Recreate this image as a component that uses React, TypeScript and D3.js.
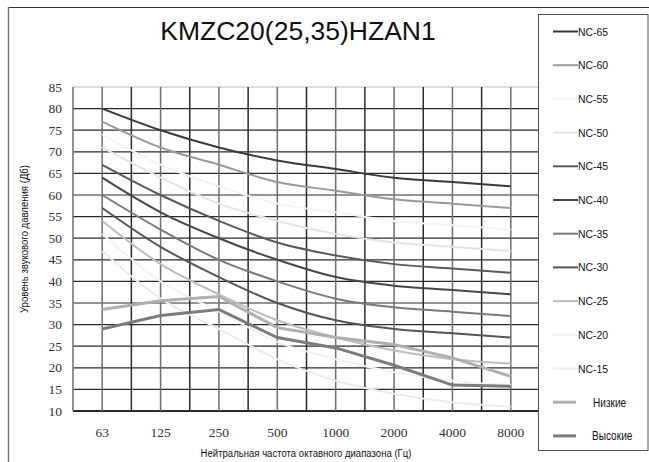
import * as d3 from "d3";

// octave band centre frequencies
const freqs = ["63", "125", "250", "500", "1000", "2000", "4000", "8000"];
const yTicks = [10, 15, 20, 25, 30, 35, 40, 45, 50, 55, 60, 65, 70, 75, 80, 85];

// NC curves (dB per octave band)
const nc65 = [80, 75, 71, 68, 66, 64, 63, 62];
const nc60 = [77, 71, 67, 63, 61, 59, 58, 57];
const nc55 = [74, 67, 62, 58, 56, 54, 53, 52];
const nc50 = [71, 64, 58, 54, 51, 49, 48, 47];
const nc45 = [67, 60, 54, 49, 46, 44, 43, 42];
const nc40 = [64, 56, 50, 45, 41, 39, 38, 37];
const nc35 = [60, 52, 45, 40, 36, 34, 33, 32];
const nc30 = [57, 48, 41, 35, 31, 29, 28, 27];
const nc25 = [54, 44, 37, 31, 27, 24, 22, 21];
const nc20 = [51, 40, 33, 26, 22, 19, 17, 16];
const nc15 = [47, 36, 29, 22, 17, 14, 12, 11];

// unit measurements
const low = [33.5, 35.5, 36.5, 29.3, 27, 25.4, 22.3, 18];
const high = [29, 32.1, 33.5, 27, 24.6, 20.6, 16, 15.7];

const series = [
  { name: "NC-65", values: nc65, color: "#3a3a3a", width: 2, curved: true },
  { name: "NC-60", values: nc60, color: "#9a9a9a", width: 2, curved: true },
  { name: "NC-55", values: nc55, color: "#f4f4f4", width: 2, curved: true },
  { name: "NC-50", values: nc50, color: "#e4e4e4", width: 2, curved: true },
  { name: "NC-45", values: nc45, color: "#5a5a5a", width: 2, curved: true },
  { name: "NC-40", values: nc40, color: "#474747", width: 2, curved: true },
  { name: "NC-35", values: nc35, color: "#7a7a7a", width: 2, curved: true },
  { name: "NC-30", values: nc30, color: "#555555", width: 2, curved: true },
  { name: "NC-25", values: nc25, color: "#bcbcbc", width: 2, curved: true },
  { name: "NC-20", values: nc20, color: "#f2f2f2", width: 2, curved: true },
  { name: "NC-15", values: nc15, color: "#ececec", width: 2, curved: true },
  { name: "Низкие", values: low, color: "#b0b0b0", width: 3, curved: false },
  { name: "Высокие", values: high, color: "#7c7c7c", width: 3, curved: false },
];

const sans = "'Liberation Sans', Arial, sans-serif";
const serif = "'Liberation Serif', 'Times New Roman', serif";

export default function App() {
  const width = 649;
  const height = 462;
  const plot = { left: 73, right: 540, top: 87, bottom: 411 };

  const x = d3
    .scalePoint<string>()
    .domain(freqs)
    .range([plot.left, plot.right])
    .padding(0.5);
  const step = x.step();
  const y = d3.scaleLinear().domain([10, 85]).range([plot.bottom, plot.top]);

  // vertical grid: at each band and half way between them
  const vGrid: { pos: number; major: boolean }[] = [];
  freqs.forEach((f) => {
    vGrid.push({ pos: (x(f) as number) - step / 2, major: false });
    vGrid.push({ pos: x(f) as number, major: true });
  });
  vGrid.push({ pos: plot.right, major: false });

  const lineCurved = d3
    .line<number>()
    .x((d, i) => x(freqs[i]) as number)
    .y((d) => y(d))
    .curve(d3.curveMonotoneX);
  const lineStraight = d3
    .line<number>()
    .x((d, i) => x(freqs[i]) as number)
    .y((d) => y(d));

  const legendX = 538;
  const legendTop = 31.5;
  const legendStep = 33.7;
  const narrow = 0.87; // horizontal squeeze to mimic a condensed face

  return (
    <svg
      width={width}
      height={height}
      style={{ position: "absolute", left: 0, top: 0, background: "#fff" }}
    >
      {/* outer frame */}
      <line x1={8} x2={649} y1={7.5} y2={7.5} stroke="#333" strokeWidth={1.2} />
      <line x1={8.5} x2={8.5} y1={7} y2={462} stroke="#777" strokeWidth={1.5} />

      {/* title */}
      <text
        x={298}
        y={40}
        textAnchor="middle"
        style={{ fontFamily: sans }}
        fontSize={26.5}
        fill="#111"
      >
        KMZC20(25,35)HZAN1
      </text>

      {/* horizontal grid */}
      {yTicks.map((t) => (
        <line
          key={`h${t}`}
          x1={plot.left}
          x2={plot.right}
          y1={y(t)}
          y2={y(t)}
          stroke={t === 85 ? "#bbb" : "#2a2a2a"}
          strokeWidth={t === 10 ? 1.8 : 1.2}
        />
      ))}

      {/* vertical grid */}
      {vGrid.map((g, i) => (
        <line
          key={`v${i}`}
          x1={g.pos}
          x2={g.pos}
          y1={plot.top}
          y2={plot.bottom}
          stroke={i === 0 || g.major ? "#6e6e6e" : "#2a2a2a"}
          strokeWidth={1.5}
        />
      ))}

      {/* y tick labels */}
      {yTicks.map((t) => (
        <text
          key={`yt${t}`}
          x={62}
          y={y(t) + 4.5}
          textAnchor="end"
          style={{ fontFamily: serif }}
          fontSize={13.5}
          fill="#333"
        >
          {t}
        </text>
      ))}

      {/* x tick labels */}
      {freqs.map((f) => (
        <text
          key={`xt${f}`}
          x={x(f) as number}
          y={437}
          textAnchor="middle"
          style={{ fontFamily: serif }}
          fontSize={13.5}
          fill="#333"
        >
          {f}
        </text>
      ))}

      {/* axis titles */}
      <text
        transform={`translate(28,${(plot.top + plot.bottom) / 2 - 10}) rotate(-90) scale(${narrow},1)`}
        textAnchor="middle"
        style={{ fontFamily: sans }}
        fontSize={11}
        fill="#111"
      >
        Уровень звукового давления (Дб)
      </text>
      <text
        transform={`translate(306,457) scale(${narrow},1)`}
        textAnchor="middle"
        style={{ fontFamily: sans }}
        fontSize={11}
        fill="#111"
      >
        Нейтральная частота октавного диапазона (Гц)
      </text>

      {/* series */}
      {series.map((s) => (
        <path
          key={s.name}
          d={(s.curved ? lineCurved : lineStraight)(s.values) || ""}
          fill="none"
          stroke={s.color}
          strokeWidth={s.width}
        />
      ))}

      {/* legend */}
      <rect
        x={legendX + 0.5}
        y={14.5}
        width={109.5}
        height={436}
        fill="#fff"
        stroke="#555"
        strokeWidth={1}
      />
      {series.map((s, i) => {
        const ly = legendTop + i * legendStep;
        return (
          <g key={`lg${s.name}`}>
            <line
              x1={553}
              x2={s.curved ? 578 : 576}
              y1={ly}
              y2={ly}
              stroke={s.color}
              strokeWidth={s.width}
            />
            <text
              transform={
                s.curved
                  ? `translate(578,${ly + 4}) scale(0.95,1)`
                  : `translate(${i === 11 ? 593 : 592},${ly + 4.5}) scale(0.84,1)`
              }
              style={{ fontFamily: sans }}
              fontSize={s.curved ? 11 : 12}
              fill="#111"
            >
              {s.name}
            </text>
          </g>
        );
      })}
    </svg>
  );
}
